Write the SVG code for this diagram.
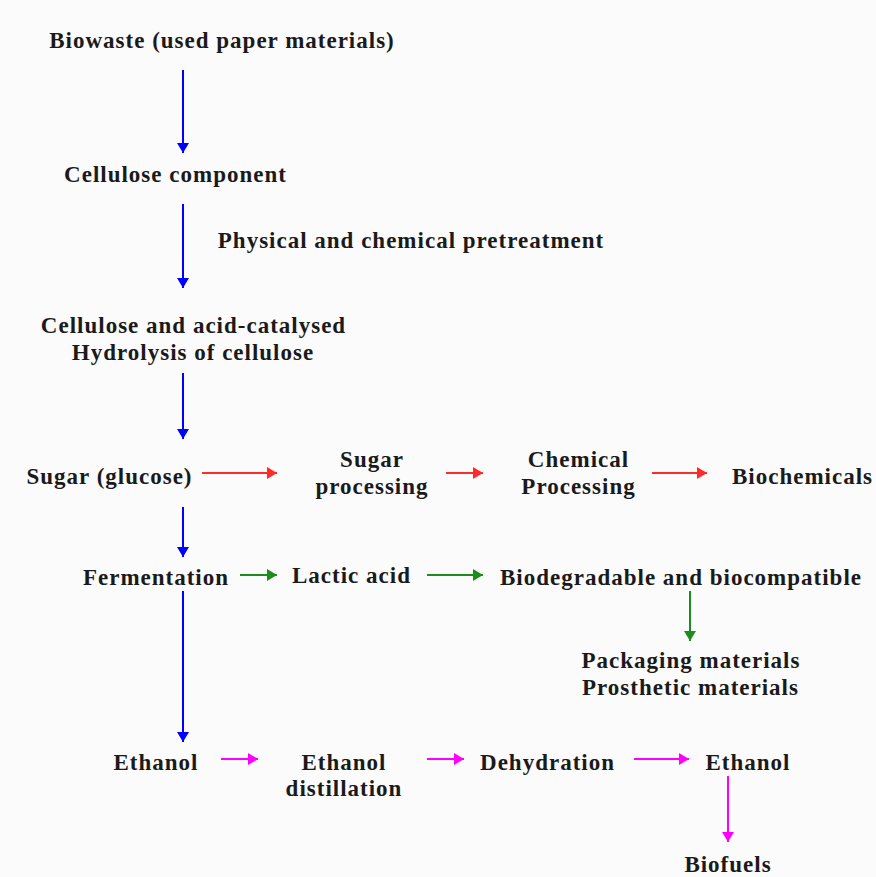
<svg xmlns="http://www.w3.org/2000/svg" width="876" height="877" viewBox="0 0 876 877">
  <style>
    text { font-family: "Liberation Serif", "Times New Roman", serif; font-weight: bold; font-size: 23px; letter-spacing: 1px; fill: #1a1a1a; text-anchor: middle; }
    .c { fill: none; stroke-width: 2; }
    .blue { stroke: #0000ff; }
    .red { stroke: #ff2a2a; }
    .green { stroke: #1c8c1c; }
    .pink { stroke: #ff00ff; }
  </style>
  <defs>
    <marker id="hb" viewBox="0 0 10 12" refX="10" refY="6" markerWidth="5" markerHeight="6" orient="auto" markerUnits="strokeWidth">
      <path d="M0,0 L10,6 L0,12 z" fill="#0000ff"/>
    </marker>
    <marker id="hr" viewBox="0 0 10 12" refX="10" refY="6" markerWidth="5" markerHeight="6" orient="auto" markerUnits="strokeWidth">
      <path d="M0,0 L10,6 L0,12 z" fill="#ff2a2a"/>
    </marker>
    <marker id="hg" viewBox="0 0 10 12" refX="10" refY="6" markerWidth="5" markerHeight="6" orient="auto" markerUnits="strokeWidth">
      <path d="M0,0 L10,6 L0,12 z" fill="#1c8c1c"/>
    </marker>
    <marker id="hp" viewBox="0 0 10 12" refX="10" refY="6" markerWidth="5" markerHeight="6" orient="auto" markerUnits="strokeWidth">
      <path d="M0,0 L10,6 L0,12 z" fill="#ff00ff"/>
    </marker>
  </defs>
  <rect width="876" height="877" fill="#fbfbfb"/>

  <g id="connectors">
    <line class="c blue" x1="183" y1="70" x2="183" y2="153" marker-end="url(#hb)"/>
    <line class="c blue" x1="183" y1="204" x2="183" y2="288" marker-end="url(#hb)"/>
    <line class="c blue" x1="183" y1="373" x2="183" y2="439" marker-end="url(#hb)"/>
    <line class="c blue" x1="183" y1="507" x2="183" y2="557" marker-end="url(#hb)"/>
    <line class="c blue" x1="183" y1="591" x2="183" y2="742" marker-end="url(#hb)"/>
    <line class="c red" x1="202" y1="473" x2="277" y2="473" marker-end="url(#hr)"/>
    <line class="c red" x1="446" y1="473" x2="483" y2="473" marker-end="url(#hr)"/>
    <line class="c red" x1="652" y1="473" x2="707" y2="473" marker-end="url(#hr)"/>
    <line class="c green" x1="240" y1="575" x2="277" y2="575" marker-end="url(#hg)"/>
    <line class="c green" x1="427" y1="575" x2="483" y2="575" marker-end="url(#hg)"/>
    <line class="c green" x1="690" y1="591" x2="690" y2="641" marker-end="url(#hg)"/>
    <line class="c pink" x1="221" y1="759" x2="258" y2="759" marker-end="url(#hp)"/>
    <line class="c pink" x1="427" y1="759" x2="464" y2="759" marker-end="url(#hp)"/>
    <line class="c pink" x1="634" y1="759" x2="689" y2="759" marker-end="url(#hp)"/>
    <line class="c pink" x1="728" y1="776" x2="728" y2="842" marker-end="url(#hp)"/>
  </g>

  <g id="biowaste"><text x="222" y="48">Biowaste (used paper materials)</text></g>
  <g id="cellulose-component"><text x="175.5" y="182">Cellulose component</text></g>
  <g id="pretreatment"><text x="411" y="248">Physical and chemical pretreatment</text></g>
  <g id="hydrolysis">
    <text x="193.5" y="333">Cellulose and acid-catalysed</text>
    <text x="193" y="360">Hydrolysis of cellulose</text>
  </g>
  <g id="sugar"><text x="109.5" y="484">Sugar (glucose)</text></g>
  <g id="sugar-processing">
    <text x="372" y="467">Sugar</text>
    <text x="372" y="494">processing</text>
  </g>
  <g id="chemical-processing">
    <text x="578.5" y="467">Chemical</text>
    <text x="578.5" y="494">Processing</text>
  </g>
  <g id="biochemicals"><text x="802.5" y="484">Biochemicals</text></g>
  <g id="fermentation"><text x="156" y="585">Fermentation</text></g>
  <g id="lactic-acid"><text x="351.5" y="583">Lactic acid</text></g>
  <g id="biodegradable"><text x="681" y="585">Biodegradable and biocompatible</text></g>
  <g id="materials">
    <text x="691" y="668">Packaging materials</text>
    <text x="690.5" y="695">Prosthetic materials</text>
  </g>
  <g id="ethanol"><text x="156" y="770">Ethanol</text></g>
  <g id="distillation">
    <text x="344" y="770">Ethanol</text>
    <text x="344" y="796">distillation</text>
  </g>
  <g id="dehydration"><text x="547.5" y="770">Dehydration</text></g>
  <g id="ethanol-final"><text x="748" y="770">Ethanol</text></g>
  <g id="biofuels"><text x="728" y="872">Biofuels</text></g>
</svg>
